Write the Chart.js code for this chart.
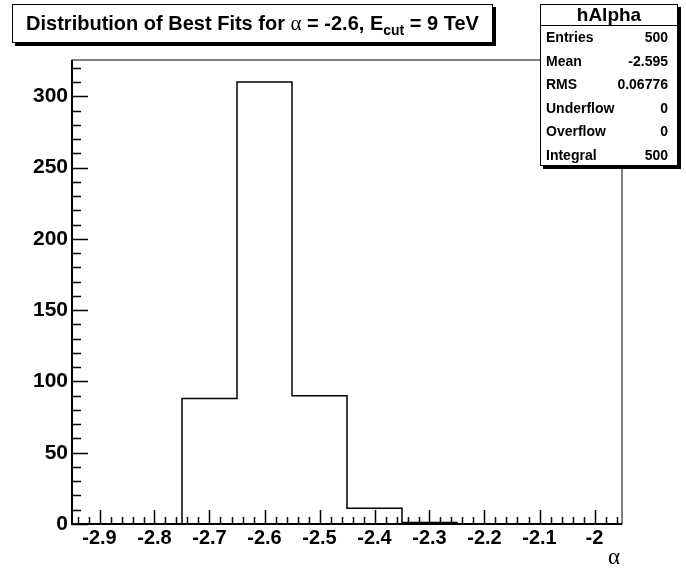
<!DOCTYPE html>
<html lang="en">
<head>
<meta charset="UTF-8">
<title>hAlpha</title>
<script src="https://cdn.jsdelivr.net/npm/chart.js"></script>
<style>
    body {
        margin: 0;
        background: #fff;
        font-family: 'Liberation Sans', Arial, sans-serif;
        color: #000;
    }
    #wrap { position: relative; width: 686px; height: 568px; }
    #histo { position: absolute; left: 0; top: 0; }
    .titlebox {
        position: absolute; left: 12px; top: 4px;
        width: 481px; height: 39px; box-sizing: border-box;
        border: 1px solid #000; box-shadow: 3px 3px 0 #000;
        background: #fff; font-weight: bold; font-size: 20px;
        text-align: center; line-height: 37px; white-space: nowrap;
    }
    .greek { font-family: 'Liberation Serif', serif; font-weight: normal; font-size: 21px; }
    .titlebox sub { font-size: 14px; line-height: 0; vertical-align: -5px; }
    .stats {
        position: absolute; left: 540px; top: 4px;
        width: 138px; height: 162px; box-sizing: border-box;
        border: 1px solid #000; box-shadow: 3px 3px 0 #000;
        background: #fff; font-weight: bold;
    }
    .stats .head {
        height: 20px; border-bottom: 1px solid #000;
        text-align: center; font-size: 19px; line-height: 20px;
    }
    .stats .row {
        display: flex; justify-content: space-between;
        height: 23.5px; line-height: 23.5px; font-size: 14px;
        padding: 0 9px 0 5px;
    }
    .xtitle {
        position: absolute; right: 66px; top: 546px;
        font-family: 'Liberation Serif', serif; font-size: 23px; line-height: 22px;
    }
</style>
</head>
<body>
<div id="wrap">
    <canvas id="histo" width="686" height="568"></canvas>
    <div class="titlebox">Distribution of Best Fits for <span class="greek">&alpha;</span> = -2.6, E<sub>cut</sub> = 9 TeV</div>
    <div class="stats">
        <div class="head">hAlpha</div>
        <div class="row"><span>Entries</span><span>500</span></div>
        <div class="row"><span>Mean</span><span>-2.595</span></div>
        <div class="row"><span>RMS</span><span>0.06776</span></div>
        <div class="row"><span>Underflow</span><span>0</span></div>
        <div class="row"><span>Overflow</span><span>0</span></div>
        <div class="row"><span>Integral</span><span>500</span></div>
    </div>
    <div class="xtitle">&alpha;</div>
</div>

<script>
    // bin low edges (width 0.1) and counts, last edge closes the histogram
    const binEdges = [-2.95, -2.85, -2.75, -2.65, -2.55, -2.45, -2.35, -2.25, -2.15, -2.05, -1.95];
    const counts = [0, 0, 88, 310, 90, 11, 1, 0, 0, 0];
    const xTicks = [-2.9, -2.8, -2.7, -2.6, -2.5, -2.4, -2.3, -2.2, -2.1, -2.0];
    const yTicks = [0, 50, 100, 150, 200, 250, 300];
    const xRange = [-2.95, -1.95];
    const yMax = 325.5;

    const points = binEdges.map((x, i) => ({ x: x, y: i < counts.length ? counts[i] : 0 }));

    // ROOT style frame with ticks drawn inside
    const rootFrame = {
        id: 'rootFrame',
        afterDatasetsDraw(chart) {
            const { ctx, chartArea: a, scales: { x, y } } = chart;
            ctx.save();
            ctx.strokeStyle = '#000';
            ctx.lineWidth = 1;
            ctx.strokeRect(a.left, a.top, a.right - a.left, a.bottom - a.top);

            ctx.lineWidth = 1.5;
            ctx.beginPath();
            // x ticks: major 0.1, minor 0.02
            for (let k = -147; k <= -98; k++) {
                const px = Math.round(x.getPixelForValue(k * 0.02)) + 0.5;
                const len = (k % 5 === 0) ? 14 : 7;
                ctx.moveTo(px, a.bottom);
                ctx.lineTo(px, a.bottom - len);
            }
            // y ticks: major 50, minor 10
            for (let v = 0; v <= 320; v += 10) {
                const py = Math.round(y.getPixelForValue(v)) + 0.5;
                const len = (v % 50 === 0) ? 16 : 9;
                ctx.moveTo(a.left, py);
                ctx.lineTo(a.left + len, py);
            }
            ctx.stroke();

            ctx.lineWidth = 2;
            ctx.beginPath();
            ctx.moveTo(a.left, a.top);
            ctx.lineTo(a.left, a.bottom);
            ctx.lineTo(a.right, a.bottom);
            ctx.stroke();
            ctx.restore();
        }
    };

    const chart = new Chart(document.getElementById('histo'), {
        type: 'line',
        data: {
            datasets: [{
                label: 'hAlpha',
                data: points,
                stepped: 'before',
                borderColor: '#000',
                borderWidth: 1.5,
                pointRadius: 0,
                fill: false
            }]
        },
        options: {
            responsive: false,
            animation: false,
            devicePixelRatio: 1,
            layout: { padding: { top: 60, right: 64, left: 0, bottom: 0 } },
            plugins: {
                legend: { display: false },
                tooltip: { enabled: false }
            },
            scales: {
                x: {
                    type: 'linear',
                    min: xRange[0],
                    max: xRange[1],
                    afterFit: (s) => { s.height = 44; },
                    afterBuildTicks: (s) => { s.ticks = xTicks.map(v => ({ value: v })); },
                    grid: { display: false, drawTicks: false },
                    border: { display: false },
                    ticks: {
                        padding: 2,
                        color: '#000',
                        maxRotation: 0,
                        font: { family: 'Liberation Sans', weight: 'bold', size: 20 },
                        callback: (v) => String(Number(v.toFixed(1)))
                    }
                },
                y: {
                    type: 'linear',
                    min: 0,
                    max: yMax,
                    afterFit: (s) => { s.width = 72; },
                    afterBuildTicks: (s) => { s.ticks = yTicks.map(v => ({ value: v })); },
                    grid: { display: false, drawTicks: false },
                    border: { display: false },
                    ticks: {
                        padding: 4,
                        color: '#000',
                        font: { family: 'Liberation Sans', weight: 'bold', size: 21 }
                    }
                }
            }
        },
        plugins: [rootFrame]
    });
</script>
</body>
</html>
